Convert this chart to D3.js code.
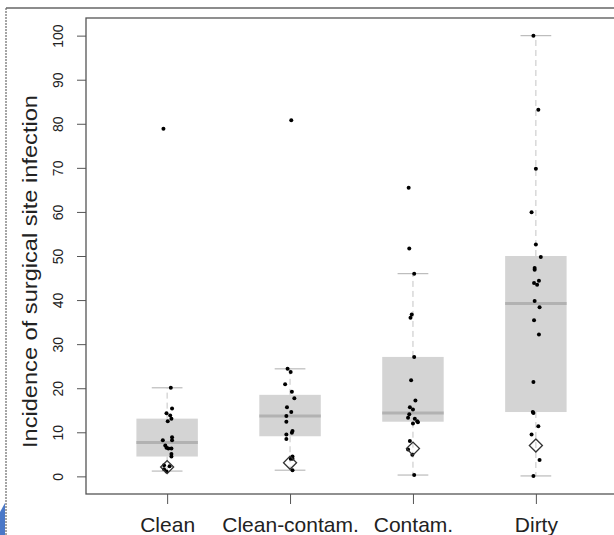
<!DOCTYPE html>
<html>
<head>
<meta charset="utf-8">
<script src="https://cdn.jsdelivr.net/npm/d3@7"></script>
<style>
  body { margin: 0; background: #fff; }
  text { font-family: "Liberation Sans", Arial, sans-serif; fill: #222; }
</style>
</head>
<body>
<div id="svg"></div>
<script>
// categories and box stats
let categories = ['Clean', 'Clean-contam.', 'Contam.', 'Dirty'];
let q1 = [4.5, 9.1, 12.4, 14.6];
let medians = [7.7, 13.7, 14.4, 39.2];
let q3 = [13.1, 18.5, 27.1, 50.0];
let whiskLo = [1.2, 1.4, 0.3, 0.1];
let whiskHi = [20.1, 24.4, 46.0, 100];
let pooled = [2.1, 3.1, 6.3, 7.0];
let yTicks = [0, 10, 20, 30, 40, 50, 60, 70, 80, 90, 100];

// individual points: values and horizontal jitter (category units)
let cleanVals = [78.9, 20.1, 15.4, 14.3, 13.8, 13.1, 12.5, 8.2, 8.9, 8.2, 7.0, 6.5, 6.3, 6.3, 5.1, 4.5, 2.5, 2.3, 1.6, 1.1];
let cleanJit = [-0.03, 0.03, 0.04, -0.005, 0.025, 0.035, 0.005, -0.035, 0.04, 0.04, -0.015, -0.005, 0.01, 0.035, 0.035, 0.035, -0.025, 0.02, -0.025, -0.005];
let ccVals = [80.8, 24.4, 23.7, 20.9, 19.2, 17.7, 15.7, 14.6, 13.7, 12.4, 10.3, 9.9, 9.5, 8.5, 4.5, 4.0, 4.0, 1.4];
let ccJit = [0.01, -0.02, 0.005, -0.04, 0.015, 0.035, -0.025, 0.01, -0.03, -0.03, 0.02, 0.015, -0.03, -0.03, 0.02, 0.005, 0.02, 0.02];
let contamVals = [65.5, 51.7, 46.0, 36.7, 36.0, 27.1, 21.8, 17.2, 15.7, 15.2, 14.1, 13.3, 13.1, 12.5, 12.3, 12.0, 8.0, 6.1, 4.9, 0.3];
let contamJit = [-0.035, -0.03, 0.01, -0.01, -0.02, 0.01, -0.015, 0.02, -0.025, 0.0, -0.03, -0.04, 0.015, 0.035, 0.04, 0.0, -0.025, -0.04, -0.005, 0.01];
let dirtyVals = [100, 83.2, 69.8, 59.9, 52.6, 49.8, 47.3, 46.9, 43.9, 44.4, 43.5, 39.8, 38.4, 35.4, 32.2, 21.4, 14.6, 14.4, 11.4, 9.5, 3.7, 0.1];
let dirtyJit = [-0.02, 0.02, 0.0, -0.035, 0.0, 0.04, -0.01, -0.01, -0.015, 0.025, 0.01, -0.01, 0.03, -0.015, 0.025, -0.02, -0.025, -0.02, 0.02, -0.035, 0.03, -0.02];

let pointVals = [cleanVals, ccVals, contamVals, dirtyVals];
let pointJit = [cleanJit, ccJit, contamJit, dirtyJit];

//dimensions
let w = 614;
let h = 535;
let pLeft = 86, pRight = 617, pTop = 18, pBottom = 494;

let svg = d3.select('#svg').
append('svg').
attr('width', w).
attr('height', h);

// outer frame of the screenshot
svg.append('line').attr('x1', 6).attr('x2', 6).attr('y1', 8).attr('y2', h).
attr('stroke', '#888').attr('stroke-width', 1.5).attr('stroke-dasharray', '2,1');
svg.append('line').attr('x1', 6).attr('x2', w).attr('y1', 8).attr('y2', 8).
attr('stroke', '#666').attr('stroke-width', 1.5);
svg.append('path').attr('d', 'M0,535 L0,512 L5,503 L5,535 Z').attr('fill', '#4a78c8');

//scales
let xScale = d3.scalePoint().
domain(categories).
range([pLeft, pRight]).
padding(0.66);
let step = xScale.step();

let yScale = d3.scaleLinear().
domain([-4, 104]).
range([pBottom, pTop]);

let boxW = step * 0.5;
let capW = step * 0.25;

let g = svg.append('g');

categories.forEach((c, i) => {
  let cx = xScale(c);
  // whiskers
  g.append('line').attr('x1', cx).attr('x2', cx).
  attr('y1', yScale(q3[i])).attr('y2', yScale(whiskHi[i])).
  attr('stroke', '#c4c4c4').attr('stroke-dasharray', '6,4');
  g.append('line').attr('x1', cx).attr('x2', cx).
  attr('y1', yScale(q1[i])).attr('y2', yScale(whiskLo[i])).
  attr('stroke', '#c4c4c4').attr('stroke-dasharray', '6,4');
  [whiskHi[i], whiskLo[i]].forEach(v => {
    g.append('line').attr('x1', cx - capW / 2).attr('x2', cx + capW / 2).
    attr('y1', yScale(v)).attr('y2', yScale(v)).
    attr('stroke', '#bbb').attr('stroke-width', 1.2);
  });
  // box
  g.append('rect').
  attr('x', cx - boxW / 2).
  attr('width', boxW).
  attr('y', yScale(q3[i])).
  attr('height', yScale(q1[i]) - yScale(q3[i])).
  attr('fill', '#d4d4d4');
  g.append('line').attr('x1', cx - boxW / 2).attr('x2', cx + boxW / 2).
  attr('y1', yScale(medians[i])).attr('y2', yScale(medians[i])).
  attr('stroke', '#b2b2b2').attr('stroke-width', 3);
});

// points
categories.forEach((c, i) => {
  g.selectAll('.pt' + i).
  data(pointVals[i]).
  enter().
  append('circle').
  attr('class', 'pt' + i).
  attr('cx', (d, j) => xScale(c) + pointJit[i][j] * step).
  attr('cy', d => yScale(d)).
  attr('r', 2).
  attr('fill', '#000');
});

// diamonds
let diamond = d3.symbol().type(d3.symbolSquare).size(85);
g.selectAll('.dia').
data(pooled).
enter().
append('path').
attr('class', 'dia').
attr('d', diamond).
attr('transform', (d, i) => 'translate(' + xScale(categories[i]) + ',' + yScale(d) + ') rotate(45)').
attr('fill', 'none').
attr('stroke', '#333').
attr('stroke-width', 1.3);

// plot box
svg.append('rect').
attr('x', pLeft).attr('y', pTop).
attr('width', pRight - pLeft).attr('height', pBottom - pTop).
attr('fill', 'none').attr('stroke', '#555').attr('stroke-width', 1.3);

// y axis
let yAxis = d3.axisLeft(yScale).tickValues(yTicks).tickSize(9).tickPadding(0);
let ya = svg.append('g').
attr('transform', 'translate(' + pLeft + ',0)').
call(yAxis);
ya.select('.domain').remove();
ya.selectAll('line').attr('stroke', '#555');
ya.selectAll('text').
attr('x', 0).attr('y', 0).attr('dy', 0).
attr('transform', 'translate(-23,0) rotate(-90)').
attr('text-anchor', 'middle').
style('font-size', '14px').
style('font-family', '"Liberation Sans", Arial, sans-serif').
attr('fill', '#333');

// x axis
let xAxis = d3.axisBottom(xScale).tickSize(10).tickPadding(0);
let xa = svg.append('g').
attr('transform', 'translate(0,' + pBottom + ')').
call(xAxis);
xa.select('.domain').remove();
xa.selectAll('line').attr('stroke', '#555');
xa.selectAll('text').
attr('y', 38).attr('dy', 0).
style('font-size', '21px').
style('font-family', '"Liberation Sans", Arial, sans-serif').
attr('fill', '#222');

// y title
svg.append('text').
text('Incidence of surgical site infection').
attr('transform', 'translate(37,' + (448 + 95) / 2 + ') rotate(-90)').
attr('text-anchor', 'middle').
attr('textLength', 353).
attr('lengthAdjust', 'spacingAndGlyphs').
style('font-size', '21px');
</script>
</body>
</html>
